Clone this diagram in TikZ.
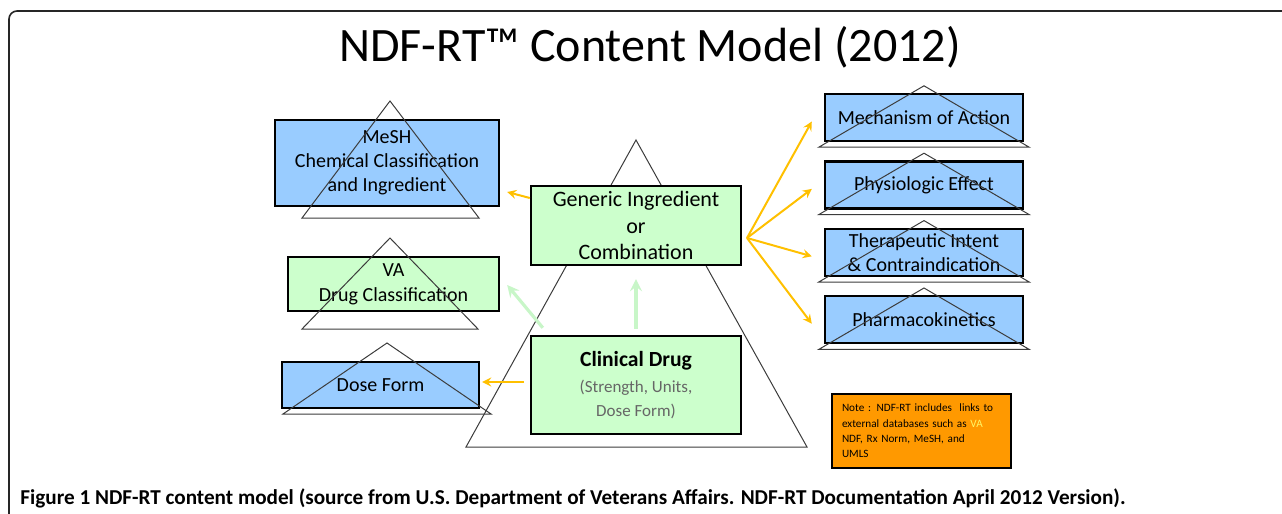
\documentclass[tikz,border=0pt]{standalone}
\usepackage{fontspec}
\setmainfont{Carlito}
\usetikzlibrary{arrows,calc,positioning}
\definecolor{boxblue}{RGB}{153,204,255}
\definecolor{boxgreen}{RGB}{204,255,204}
\definecolor{noteorange}{RGB}{255,153,0}
\definecolor{linkyellow}{RGB}{255,192,0}
\definecolor{linkgreen}{RGB}{200,246,200}
\definecolor{trigray}{RGB}{60,60,60}
\tikzset{concept/.style={draw=black,line width=1.2pt,align=center,inner sep=0pt,font=\fontsize{10}{12}\selectfont},
	ext/.style={concept,fill=boxblue},
	int/.style={concept,fill=boxgreen},
	tri/.style={draw=trigray,line width=0.5pt},
	link/.style={->,draw=linkyellow,line width=1pt},
	derive/.style={->,draw=linkgreen,line width=1.6pt}}

\begin{document}
\begin{tikzpicture}[x=0.5pt,y=-0.5pt,>=stealth]
	\useasboundingbox (0,0) rectangle (1282,514);
	% frame
	\draw[line width=0.8pt,black!85,rounded corners=4pt] (9,514) -- (9,11) -- (1282,11);
	\node (title) at (650,47) {\fontsize{24}{28}\selectfont NDF-RT™ Content Model (2012)};

	% central hierarchy
	\draw[tri,fill=white] (636,140) -- (807,447) -- (466,447) -- cycle;
	\node[int,minimum width=105pt,minimum height=39.5pt,font=\fontsize{11}{13.2}\selectfont] (gen) at (636,225.5) {Generic Ingredient\\or\\Combination};
	\node[int,minimum width=105pt,minimum height=49pt] (clin) at (636,385) {\fontsize{10.8}{12}\selectfont\bfseries Clinical Drug\\[1pt]
		\fontsize{8.5}{11}\selectfont\mdseries\color{black!60}(Strength, Units,\\\fontsize{8.5}{11}\selectfont\color{black!60}Dose Form)};

	% left side
	\node[ext,minimum width=112pt,minimum height=43pt] (mesh) at (387,163) {MeSH\\Chemical Classification\\and Ingredient};
	\node[int,minimum width=105.5pt,minimum height=27pt,font=\fontsize{10}{12.5}\selectfont] (va) at (393.5,284) {VA\\Drug Classification};
	\node[ext,minimum width=98.5pt,minimum height=23pt] (dose) at (380.5,385) {Dose Form};
	\draw[tri] (390,101) -- (479,218) -- (302,218) -- cycle;
	\draw[tri] (390,238) -- (478,329) -- (302,329) -- cycle;
	\draw[tri] (387,343) -- (491,414) -- (283,414) -- cycle;

	% right side
	\node[ext,minimum width=99pt,minimum height=23.5pt] (moa) at (924,117.5) {Mechanism of Action};
	\node[ext,minimum width=99pt,minimum height=23.5pt] [below = 9pt of moa] (pe) {Physiologic Effect};
	\node[ext,minimum width=99pt,minimum height=23.5pt] [below = 9pt of pe] (ti) {Therapeutic Intent\\\& Contraindication};
	\node[ext,minimum width=99pt,minimum height=23.5pt] [below = 9pt of ti] (pk) {Pharmacokinetics};
	\foreach \b in {moa,pe,ti,pk}
		\draw[tri] ($(\b.north)+(0,-7)$) -- ($(\b.south east)+(5,5)$) -- ($(\b.south west)+(-5,5)$) -- cycle;

	% note
	\node[draw=black,line width=1.2pt,fill=noteorange,text width=79.5pt,inner xsep=5pt,inner ysep=0pt,minimum height=37pt,align=left,font=\fontsize{5.6}{7.7}\selectfont] (note) at (921.5,431)
		{Note : NDF-RT includes\ \ links to\\external databases such as \textcolor{yellow!60}{VA}\\NDF, Rx Norm, MeSH, and\\UMLS};

	% links
	\draw[link] ([yshift=13.75pt]gen.west) -- ([shift={(3.5pt,-14.5pt)}]mesh.east);
	\coordinate (fan) at (747,238);
	\foreach \b in {moa,pe,ti,pk}
		\draw[link] (fan) -- ([shift={(-6pt,-2pt)}]\b.west);
	\draw[link] ([shift={(-3pt,1.5pt)}]clin.west) -- ([shift={(1pt,1.5pt)}]dose.east);
	\draw[derive] ([yshift=3pt]clin.north) -- ([yshift=-6.5pt]gen.south);
	\draw[derive] ([shift={(6.5pt,3.5pt)}]clin.north west) -- ([shift={(3.5pt,-0.5pt)}]va.east);

	\node[anchor=west,inner sep=0pt,font=\fontsize{10.6}{12}\selectfont\bfseries] (caption) at (20,498) {Figure 1 NDF-RT content model (source from U.S. Department of Veterans Affairs. NDF-RT Documentation April 2012 Version).};
\end{tikzpicture}
\end{document}
